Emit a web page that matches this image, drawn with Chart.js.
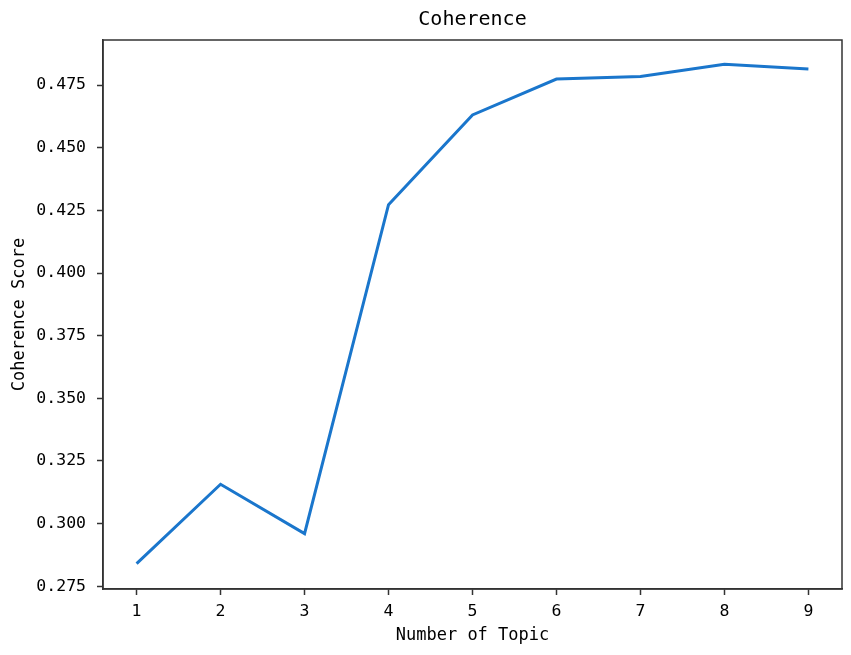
<!DOCTYPE html>
<html>
<head>
<meta charset="utf-8">
<script src="https://cdn.jsdelivr.net/npm/chart.js@4/dist/chart.umd.min.js"></script>
<style>
  html, body { margin: 0; padding: 0; background: #fff; }
  #wrap { width: 851px; height: 655px; }
</style>
</head>
<body>
<div id="wrap"><canvas id="chart"></canvas></div>
<script>
// 데이터
const topics = [1, 2, 3, 4, 5, 6, 7, 8, 9];
const scores = [0.2840, 0.3157, 0.2960, 0.4273, 0.4631, 0.4774, 0.4784, 0.4833, 0.4814];
const yTicks = [0.275, 0.300, 0.325, 0.350, 0.375, 0.400, 0.425, 0.450, 0.475];

const monoFont = "'DejaVu Sans Mono', 'Liberation Mono', monospace";
const axisColor = '#333333';

// 그래프 테두리 (위/오른쪽 포함)
const frameBox = {
  id: 'frameBox',
  afterDraw(chart) {
    const { ctx, chartArea } = chart;
    ctx.save();
    ctx.strokeStyle = axisColor;
    ctx.lineWidth = 1.5;
    ctx.strokeRect(chartArea.left, chartArea.top, chartArea.right - chartArea.left, chartArea.bottom - chartArea.top);
    ctx.restore();
  },
};

new Chart(document.getElementById('chart'), {
  type: 'line',
  data: {
    datasets: [
      {
        label: 'Coherence',
        data: topics.map((t, i) => ({ x: t, y: scores[i] })),
        borderColor: '#1a76cc',
        borderWidth: 3,
        pointRadius: 0,
        tension: 0,
        fill: false,
      },
    ],
  },
  options: {
    responsive: true,
    maintainAspectRatio: false,
    animation: false,
    layout: {
      padding: { top: 0, right: 9, bottom: 0, left: 0 },
    },
    plugins: {
      legend: { display: false },
      tooltip: { enabled: false },
      title: {
        display: true,
        text: 'Coherence',
        fullSize: false,
        color: '#000',
        font: { family: monoFont, size: 20, weight: 'normal' },
        padding: { top: 8, bottom: 8 },
      },
    },
    scales: {
      x: {
        type: 'linear',
        min: 0.6,
        max: 9.4,
        afterBuildTicks: (axis) => {
          axis.ticks = topics.map((v) => ({ value: v }));
        },
        afterFit: (axis) => {
          axis.height = 66;
        },
        border: { color: axisColor, width: 1.5 },
        grid: { drawOnChartArea: false, tickLength: 6, tickColor: axisColor, tickWidth: 1.5 },
        ticks: {
          color: '#000',
          padding: 7,
          maxRotation: 0,
          font: { family: monoFont, size: 16.5 },
        },
        title: {
          display: true,
          text: 'Number of Topic',
          color: '#000',
          font: { family: monoFont, size: 17 },
          padding: { top: 0, bottom: 9 },
        },
      },
      y: {
        min: 0.2739,
        max: 0.4930,
        afterBuildTicks: (axis) => {
          axis.ticks = yTicks.map((v) => ({ value: v }));
        },
        afterFit: (axis) => {
          axis.width = 103;
        },
        border: { color: axisColor, width: 1.5 },
        grid: { drawOnChartArea: false, tickLength: 6, tickColor: axisColor, tickWidth: 1.5 },
        ticks: {
          color: '#000',
          padding: 11,
          font: { family: monoFont, size: 16.5 },
          callback: (value) => value.toFixed(3),
        },
        title: {
          display: true,
          text: 'Coherence Score',
          color: '#000',
          font: { family: monoFont, size: 17 },
          padding: { top: 9, bottom: 0 },
        },
      },
    },
  },
  plugins: [frameBox],
});
</script>
</body>
</html>
